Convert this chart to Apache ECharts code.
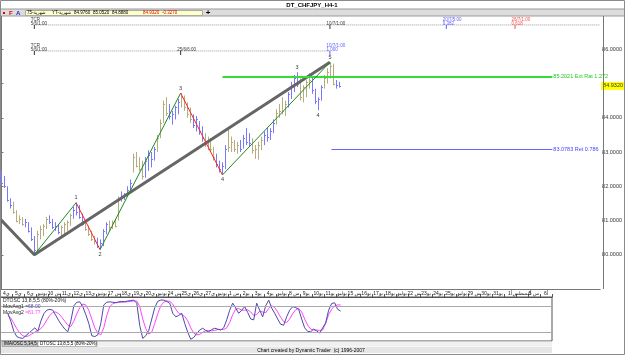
<!DOCTYPE html>
<html><head><meta charset="utf-8">
<script src="https://cdn.jsdelivr.net/npm/echarts/dist/echarts.min.js"></script>
<style>html,body{margin:0;padding:0;background:#fff}#c{width:625px;height:355px}</style>
</head><body><div id="c"></div>
<script>
// ---- data ----
const highs = [82.45,82.30,82.00,81.65,81.55,81.30,81.15,81.10,81.05,80.95,80.80,80.55,
 80.70,80.85,80.90,81.10,81.15,81.05,80.95,80.90,80.85,80.95,81.00,81.20,81.40,81.52,
 81.45,81.20,81.00,80.85,80.70,80.55,80.50,80.45,
 80.75,80.95,81.00,81.00,81.05,81.70,81.85,81.80,82.00,82.20,82.95,83.00,82.85,82.75,82.85,83.05,83.00,83.15,83.50,83.95,84.50,84.60,84.40,84.20,84.35,84.55,84.72,
 84.65,84.45,84.30,84.10,84.05,83.90,83.75,83.55,83.45,83.40,83.15,82.95,82.75,82.70,
 83.20,83.65,83.45,83.35,83.30,83.35,83.50,83.70,83.55,83.40,83.20,83.30,83.45,83.60,83.72,83.70,83.95,84.25,84.40,84.60,84.50,84.75,85.05,85.25,85.33,85.15,84.95,85.10,85.30,85.20,84.85,84.60,84.95,85.25,85.45,85.62,85.58,85.10,85.05];
const lows = [82.05,81.95,81.55,81.35,81.20,80.95,80.90,80.85,80.80,80.65,80.40,80.00,
 80.10,80.45,80.55,80.75,80.90,80.75,80.70,80.60,80.55,80.60,80.70,80.85,81.05,81.15,
 81.05,80.85,80.70,80.55,80.40,80.30,80.20,80.15,
 80.25,80.60,80.70,80.75,80.80,81.00,81.55,81.60,81.70,81.85,82.40,82.55,82.45,82.20,82.25,82.45,82.55,82.75,83.00,83.40,83.85,84.05,83.95,83.80,83.95,84.10,84.30,
 84.20,84.00,83.85,83.70,83.60,83.50,83.30,83.15,83.05,83.00,82.75,82.55,82.40,82.33,
 82.50,83.00,83.00,83.00,82.95,83.00,83.10,83.20,83.15,82.95,82.80,82.78,83.05,83.20,83.30,83.35,83.55,83.80,84.00,84.10,84.05,84.30,84.55,84.75,84.90,84.50,84.45,84.60,84.85,84.70,84.40,84.22,84.50,84.85,85.00,85.15,84.95,84.85,84.88];
const closes = [82.10,82.00,81.60,81.45,81.25,81.00,81.05,80.90,80.95,80.70,80.45,80.15,
 80.60,80.75,80.85,81.05,80.95,80.80,80.85,80.65,80.80,80.90,80.95,81.15,81.30,81.25,
 81.10,80.90,80.75,80.60,80.45,80.40,80.25,80.35,
 80.70,80.90,80.80,80.95,80.85,81.60,81.65,81.75,81.90,82.10,82.85,82.60,82.50,82.30,82.75,82.90,82.80,83.10,83.40,83.85,84.40,84.15,84.05,84.10,84.30,84.45,84.60,
 84.30,84.10,83.95,83.80,83.95,83.60,83.40,83.25,83.35,83.10,82.85,82.65,82.50,82.60,
 83.10,83.15,83.30,83.10,83.20,83.10,83.40,83.30,83.25,83.05,83.10,83.20,83.35,83.50,83.45,83.60,83.85,84.15,84.20,84.20,84.40,84.70,84.95,85.15,85.00,84.60,84.90,85.05,85.10,84.80,84.50,84.55,84.90,85.15,85.35,85.50,85.00,84.95,84.93];
const osc1 = [null,null,63,45,22,10,7,6,12,18,24,30,22,45,62,70,72,70,58,46,36,27,21,45,80,88,89,78,60,40,12,10,14,40,82,88,89,88,87,89,90,89,91,92,93,86,35,6,12,24,50,76,90,93,93,90,86,63,55,58,63,40,20,4,8,17,25,29,24,21,26,29,27,25,30,48,70,86,75,63,70,78,65,50,48,86,70,55,80,93,75,63,50,38,36,55,70,78,76,72,50,30,22,21,27,23,18,30,41,70,85,87,72,68];
const osc2 = [null,null,58,52,40,28,18,12,10,12,16,20,24,28,36,48,58,65,66,62,54,45,36,33,45,62,76,84,82,70,50,30,18,14,30,58,78,85,87,88,88,89,89,90,91,91,78,50,28,16,20,40,62,80,88,91,90,84,72,63,60,56,46,30,18,14,15,20,23,24,23,24,26,26,26,30,42,60,72,74,70,70,71,66,58,60,68,66,64,74,80,76,66,54,44,42,50,62,71,74,66,50,36,27,25,25,24,25,40,60,72,80,82,81.77];
const pivotIdx = [11,25,33,60,74,110];
const pivotPrice = [80.00,81.52,80.15,84.72,82.33,85.62];
const pivotText = ['','1','2','3','4','5'];
const subIdx = [99,106];
const subPrice = [85.33,84.22];
const subText = ['3','4'];
const trendIdx = [-0.5,11,110];
const trendPrice = [81.05,80.00,85.62];
const extLevel = 85.2021, extText = '85.2021 Ext Rat 1.272', extFrom = 74;
const retLevel = 83.0783, retText = '83.0783 Ret 0.786', retFrom = 110.5;
const levelTo = 184.5;
const lastPrice = 84.932;
const priceTicks = [80,81,82,83,84,86];
const cycleRow1Price = 86.71, cycleRow2Price = 85.95;
const cycle1Idx = [11,110,149,172];
const cycle1Text = ['TCR\n5/6/1:00','10/7/1:00','20/7/5:00\n0.382','26/7/1:00\n0.618'];
const cycle2Idx = [11,60,110];
const cycle2Text = ['TCR\n5/6/1:00','25/6/6:00','10/7/1:00\n1.000'];
const dateLabels = ['ي4','ي5','ي6','يونيو','س 10','ي11','ي12','ي13','يونيو','س 17','ي18','ي19','ي20','يونيو','س 24','ي25','ي26','ي27','يونيو','س 1','يو2','يو3','يو4','يوليو','س 8','يو9','يو10','يو11','يوليو','س 15','يو16','يو17','يو18','يوليو','س 22','يو23','يو24','يو25','يوليو','س 29','يو30','يو31','أ1','أغسطس','س 5','أ6'];
const quoteName = ['75-شهرية', 'YT-شهرية'];
const quoteVals = ['84.9760','85.0520','84.8880'];
const quoteLast = ['84.9320','-0.3270'];

// ---- chart ----
const FONT = 'Liberation Sans, DejaVu Sans, sans-serif';
const chart = echarts.init(document.getElementById('c'), null, {renderer:'canvas'});
const barData = highs.map((h,i)=>[i,h,lows[i],closes[i]]);
const BLUE='#7878ff', OLIVE='#b5ac7e';

const waveSeries = [];
for (let k=0;k<pivotIdx.length-1;k++){
  waveSeries.push({type:'line', xAxisIndex:0, yAxisIndex:0, symbol:'none', silent:true, z:5,
    lineStyle:{color: k%2===0 ? '#1f8a1f' : '#ff2020', width:1},
    data:[[pivotIdx[k],pivotPrice[k]],[pivotIdx[k+1],pivotPrice[k+1]]]});
}
const cyc1Color = ['#000','#000','#3333ff','#ff2222'];
const cyc2Color = ['#000','#000','#3333ff'];
const cycLabel = (txt,col)=>({show:true, formatter:txt, position:[-3,1.5], align:'left', verticalAlign:'bottom', fontSize:4.5, lineHeight:4.5, color:col, fontFamily:FONT});

const quoteX = [27,52,74,93,112];
const quoteG = quoteName.concat(quoteVals).map((t,i)=>({type:'text', x:quoteX[i], y:13, style:{text:t, font:'4.5px '+FONT, fill:'#000', textVerticalAlign:'middle'}, z:3}));
const lastX = [143,162];
const lastG = quoteLast.map((t,i)=>({type:'text', x:lastX[i], y:13, style:{text:t, font:'4.5px '+FONT, fill:'#ee0000', textVerticalAlign:'middle'}, z:3}));

const option = {
  animation:false,
  backgroundColor:'#fff',
  grid:[
    {left:0, top:15, width:603, height:274, show:false},
    {left:0, top:297, width:552, height:44, show:true, borderColor:'#555', borderWidth:1, backgroundColor:'#fff'}
  ],
  xAxis:[
    {gridIndex:0, type:'value', min:-0.5, max:200.5, show:true, axisLine:{show:true, lineStyle:{color:'#777'}}, axisTick:{show:false}, axisLabel:{show:false}, splitLine:{show:false}},
    {gridIndex:1, type:'value', min:-0.5, max:183.5, show:false},
    {gridIndex:1, type:'category', position:'top', data:dateLabels, boundaryGap:true,
      axisLine:{show:true, lineStyle:{color:'#555'}}, axisTick:{show:true, length:3, lineStyle:{color:'#555'}},
      axisLabel:{show:true, fontSize:5, color:'#222', margin:1, interval:0, fontFamily:FONT}}
  ],
  yAxis:[
    {gridIndex:0, type:'value', position:'right', min:79, max:87, interval:1,
      axisLine:{show:true, lineStyle:{color:'#777'}}, axisTick:{show:true, length:2, lineStyle:{color:'#777'}},
      splitLine:{show:false},
      axisLabel:{show:true, fontSize:5.5, color:'#333', margin:2, fontFamily:FONT,
        formatter:v=> priceTicks.indexOf(v)>=0 ? v.toFixed(4) : ''}},
    {gridIndex:1, type:'value', min:0, max:100, show:false}
  ],
  series:[
    {type:'custom', name:'bars', xAxisIndex:0, yAxisIndex:0, data:barData, z:3,
      renderItem:(params, api)=>{
        const i=api.value(0);
        const hi=api.coord([i,api.value(1)]), lo=api.coord([i,api.value(2)]), cl=api.coord([i,api.value(3)]);
        const col = Math.floor(i/4)%2===0 ? BLUE : OLIVE;
        const x=Math.round(hi[0])+0.5, yc=Math.round(cl[1])+0.5;
        return {type:'group', children:[
          {type:'line', shape:{x1:x,y1:hi[1],x2:x,y2:lo[1]}, style:{stroke:col,lineWidth:1}},
          {type:'line', shape:{x1:x,y1:yc,x2:x+1.5,y2:yc}, style:{stroke:col,lineWidth:1}}
        ]};
      }},
    {type:'line', name:'trend', xAxisIndex:0, yAxisIndex:0, symbol:'none', silent:true, z:4,
      lineStyle:{color:'#666', width:3},
      data: trendIdx.map((x,i)=>[x,trendPrice[i]]),
      markLine:{symbol:'none', silent:true, animation:false, data:[
        [{coord:[extFrom,extLevel], lineStyle:{color:'#33dd33', width:2, type:'solid'},
          label:{show:true, position:'end', formatter:extText, color:'#22cc22', fontSize:5.5, distance:1, fontFamily:FONT}},
         {coord:[levelTo,extLevel]}],
        [{coord:[retFrom,retLevel], lineStyle:{color:'#6666ff', width:1, type:'solid'},
          label:{show:true, position:'end', formatter:retText, color:'#4444ff', fontSize:5.5, distance:1, fontFamily:FONT}},
         {coord:[levelTo,retLevel]}],
        {yAxis:lastPrice, lineStyle:{color:'rgba(0,0,0,0)', width:0, type:'solid'},
          label:{show:true, position:'end', formatter:lastPrice.toFixed(4), backgroundColor:'#ffff00', color:'#333', fontSize:5.5, padding:[1,2], distance:1, fontFamily:FONT}}
      ]}},
    ...waveSeries,
    {type:'scatter', xAxisIndex:0, yAxisIndex:0, symbolSize:0, silent:true, z:6,
      data: pivotIdx.map((x,i)=>({value:[x,pivotPrice[i]], label:{show:pivotText[i]!=='', formatter:pivotText[i], position: i%2===1 ? 'top':'bottom', distance:2, fontSize:5.5, color:'#000', fontFamily:FONT}}))},
    {type:'scatter', xAxisIndex:0, yAxisIndex:0, symbolSize:0, silent:true, z:6,
      data: subIdx.map((x,i)=>({value:[x,subPrice[i]], label:{show:true, formatter:subText[i], position: i%2===0 ? 'top':'bottom', distance:2, fontSize:5.5, color:'#000', fontFamily:FONT}}))},
    {type:'line', xAxisIndex:0, yAxisIndex:0, symbol:'none', silent:true, z:2,
      lineStyle:{color:'#999', width:1, type:[1,1]},
      data:[[cycle1Idx[0],cycleRow1Price],[200.5,cycleRow1Price]]},
    {type:'line', xAxisIndex:0, yAxisIndex:0, symbol:'none', silent:true, z:2,
      lineStyle:{color:'#999', width:1, type:[1,1]},
      data:[[cycle2Idx[0],cycleRow2Price],[cycle2Idx[cycle2Idx.length-1],cycleRow2Price]]},
    {type:'scatter', xAxisIndex:0, yAxisIndex:0, symbol:'rect', symbolSize:[1,4], symbolOffset:[0,2], silent:true, z:6,
      itemStyle:{color:'#000'},
      data: cycle1Idx.map((x,i)=>({value:[x,cycleRow1Price], itemStyle:{color:cyc1Color[i]}, label:cycLabel(cycle1Text[i],cyc1Color[i])}))
        .concat(cycle2Idx.map((x,i)=>({value:[x,cycleRow2Price], itemStyle:{color:cyc2Color[i]}, label:cycLabel(cycle2Text[i],cyc2Color[i])})))},
    {type:'line', xAxisIndex:1, yAxisIndex:1, symbol:'none', silent:true, z:3,
      lineStyle:{color:'#ff44ff', width:1}, data: osc2.map((v,i)=>[i,v]),
      markLine:{symbol:'none', silent:true, label:{show:false}, lineStyle:{color:'#aaa', width:1, type:'solid'}, data:[{yAxis:20},{yAxis:80}]}},
    {type:'line', xAxisIndex:1, yAxisIndex:1, symbol:'none', silent:true, z:4,
      lineStyle:{color:'#4a4aa8', width:1}, data: osc1.map((v,i)=>[i,v])}
  ],
  graphic:[
    {type:'rect', shape:{x:0.5,y:0.5,width:624,height:354}, style:{fill:'none', stroke:'#8a8a8a', lineWidth:1}, z:100},
    {type:'text', x:312, y:5, style:{text:'DT_CHFJPY_H4-1', font:'bold 6px '+FONT, fill:'#000', textAlign:'center', textVerticalAlign:'middle'}, z:100},
    {type:'rect', shape:{x:0,y:9,width:625,height:7}, style:{fill:'#dcdcdc', stroke:'#999', lineWidth:1}, z:1},
    {type:'rect', shape:{x:3,y:12,width:2,height:2}, style:{fill:'#e00000'}, z:2},
    {type:'text', x:9, y:13, style:{text:'F', font:'bold 6px '+FONT, fill:'#e00000', textVerticalAlign:'middle'}, z:2},
    {type:'text', x:16, y:13, style:{text:'A', font:'bold 6px '+FONT, fill:'#2222cc', textVerticalAlign:'middle'}, z:2},
    {type:'rect', shape:{x:25.5,y:10.5,width:177,height:5}, style:{fill:'#ffffc8', stroke:'#aaa', lineWidth:1}, z:2},
    ...quoteG, ...lastG,
    {type:'text', x:208, y:13, style:{text:'+', font:'bold 8px '+FONT, fill:'#000', textAlign:'center', textVerticalAlign:'middle'}, z:3},
    {type:'line', shape:{x1:603.5,y1:16,x2:603.5,y2:289}, style:{stroke:'#777', lineWidth:1}, z:50},
    {type:'line', shape:{x1:0.5,y1:16,x2:0.5,y2:289}, style:{stroke:'#777', lineWidth:1}, z:50},
    {type:'text', x:3, y:298, style:{text:'DTOSC 13,8,5,5 (80%-20%)', font:'5px '+FONT, fill:'#222', textVerticalAlign:'top'}, z:60},
    {type:'text', x:3, y:304, style:{text:'{a|MovAvg1 }{b|=68.00}', rich:{a:{font:'5px '+FONT, fill:'#222'}, b:{font:'5px '+FONT, fill:'#4a4aa8'}}, textVerticalAlign:'top'}, z:60},
    {type:'text', x:3, y:310, style:{text:'{a|MovAvg2 }{b|=81.77}', rich:{a:{font:'5px '+FONT, fill:'#222'}, b:{font:'5px '+FONT, fill:'#ff44ff'}}, textVerticalAlign:'top'}, z:60},
    {type:'rect', shape:{x:0,y:341.5,width:552,height:5}, style:{fill:'#f0f0f0'}, z:60},
    {type:'rect', shape:{x:2,y:341.5,width:36,height:5}, style:{fill:'#c8c8c8', stroke:'#777', lineWidth:0.5}, z:61},
    {type:'text', x:4, y:344, style:{text:'IMA/OSC 5,34,5', font:'4.5px '+FONT, fill:'#000', textVerticalAlign:'middle'}, z:62},
    {type:'rect', shape:{x:38,y:341.5,width:59,height:5}, style:{fill:'#fff', stroke:'#777', lineWidth:0.5}, z:61},
    {type:'text', x:40, y:344, style:{text:'DTOSC 13,8,5,5 (80%-20%)', font:'4.5px '+FONT, fill:'#000', textVerticalAlign:'middle'}, z:62},
    {type:'rect', shape:{x:0,y:347,width:552,height:6}, style:{fill:'#e6e6e6'}, z:60},
    {type:'text', x:311, y:350.5, style:{text:'Chart created by Dynamic Trader  (c) 1996-2007', font:'5px '+FONT, fill:'#000', textAlign:'center', textVerticalAlign:'middle'}, z:62}
  ]
};
chart.setOption(option);
</script></body></html>
